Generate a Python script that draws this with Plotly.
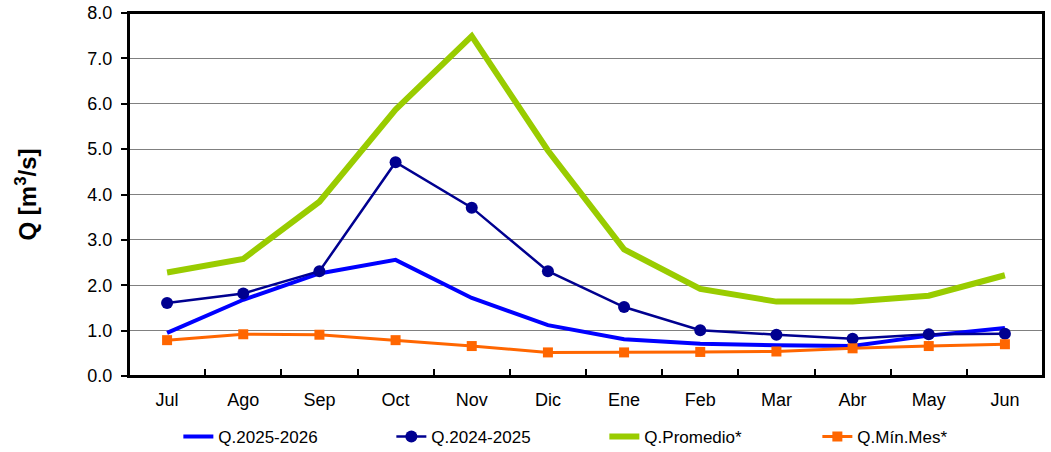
import plotly.graph_objects as go

months = ["Jul", "Ago", "Sep", "Oct", "Nov", "Dic",
          "Ene", "Feb", "Mar", "Abr", "May", "Jun"]

q_2025_2026 = [0.95, 1.68, 2.26, 2.56, 1.72, 1.12,
               0.81, 0.71, 0.68, 0.66, 0.89, 1.06]
q_2024_2025 = [1.61, 1.82, 2.31, 4.71, 3.71, 2.31,
               1.52, 1.01, 0.91, 0.82, 0.92, 0.93]
q_promedio = [2.28, 2.58, 3.84, 5.87, 7.49, 4.97,
              2.79, 1.92, 1.64, 1.64, 1.77, 2.22]
q_min_mes = [0.79, 0.92, 0.91, 0.79, 0.66, 0.52,
             0.52, 0.53, 0.54, 0.61, 0.66, 0.70]

font_family = "Liberation Sans, Arial, sans-serif"


def main() -> None:
    """Build the monthly flow chart."""
    fig = go.Figure()

    # Current season, plain blue line.
    fig.add_trace(go.Scatter(
        x=months, y=q_2025_2026, name="Q.2025-2026",
        mode="lines", line=dict(color="#0000FF", width=4),
    ))

    # Previous season, navy with circles.
    fig.add_trace(go.Scatter(
        x=months, y=q_2024_2025, name="Q.2024-2025",
        mode="lines+markers", line=dict(color="#000090", width=2.5),
        marker=dict(symbol="circle", size=12, color="#000090"),
    ))

    # Long-term average, thick green.
    fig.add_trace(go.Scatter(
        x=months, y=q_promedio, name="Q.Promedio*",
        mode="lines", line=dict(color="#99CC00", width=6),
    ))

    # Monthly minimum, orange with squares.
    fig.add_trace(go.Scatter(
        x=months, y=q_min_mes, name="Q.Mín.Mes*",
        mode="lines+markers", line=dict(color="#FF6600", width=3),
        marker=dict(symbol="square", size=10, color="#FF6600"),
    ))

    fig.update_layout(
        width=1051,
        height=452,
        margin=dict(l=129, r=8, t=13, b=76, autoexpand=False),
        paper_bgcolor="white",
        plot_bgcolor="white",
        font=dict(family=font_family, color="black", size=18),
        showlegend=True,
        legend=dict(
            orientation="h",
            x=0.054, y=-0.168,
            xanchor="left", yanchor="middle",
            font=dict(size=17),
            entrywidth=168,
            entrywidthmode="pixels",
            traceorder="normal",
        ),
        # Black frame round the plot area.
        shapes=[dict(
            type="rect", xref="paper", yref="paper",
            x0=0, y0=0, x1=1, y1=1,
            line=dict(color="black", width=2),
            layer="above",
        )],
    )

    fig.update_xaxes(
        type="category",
        range=[-0.5, 11.5],
        showgrid=False,
        showline=True, linecolor="black", linewidth=2,
        mirror=True,
        ticks="inside", tickson="boundaries",
        ticklen=7, tickcolor="black", tickwidth=2,
        ticklabelstandoff=6,
        tickfont=dict(size=18),
    )

    fig.update_yaxes(
        range=[0, 8],
        dtick=1,
        tickformat=".1f",
        showgrid=True, gridcolor="#808080", gridwidth=1,
        showline=True, linecolor="black", linewidth=2,
        mirror=True,
        ticks="outside", ticklen=6, tickcolor="black", tickwidth=2,
        ticklabelstandoff=5,
        ticklabeloverflow="allow",
        tickfont=dict(size=18),
        zeroline=False,
        title=dict(text="Q [m<sup>3</sup>/s]",
                   font=dict(size=24, family=font_family, weight="bold"),
                   standoff=44),
    )

    # Drop the page's default body margin so the figure fills the window.
    fig.write_html(
        "out.html",
        config={"displayModeBar": False},
        post_script="document.body.style.margin='0';",
    )


if __name__ == "__main__":
    main()
